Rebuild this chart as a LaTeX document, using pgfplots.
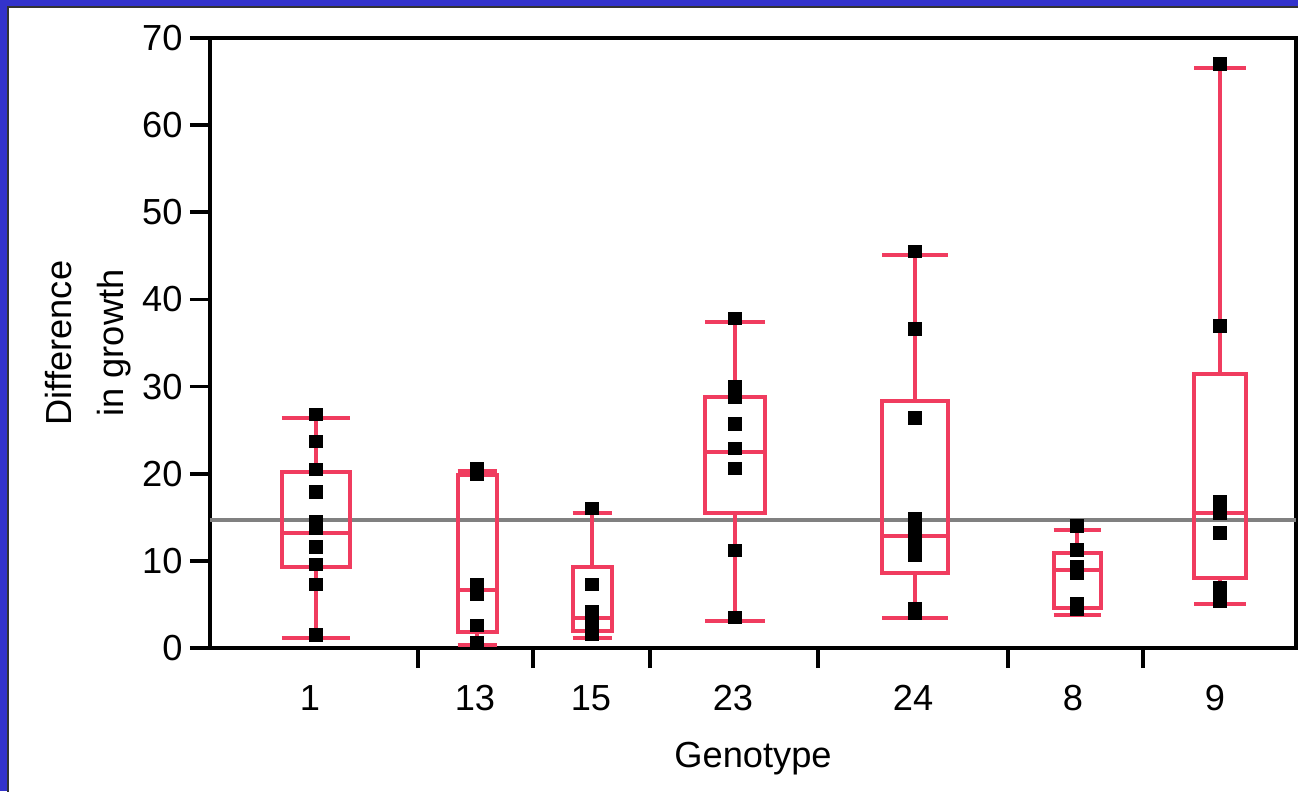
\documentclass[border=0pt]{standalone}
\usepackage{fontspec}
\setmainfont{Liberation Sans}
\usepackage{pgfplots}
\usepackage{pgfplotstable}
\pgfplotsset{compat=1.18}
\definecolor{jmpBlue}{RGB}{51,51,204}
\definecolor{jmpRed}{RGB}{240,60,95}
\definecolor{meanGray}{RGB}{128,128,128}

% one JMP-style box: left, centre, right, lower whisker, Q1, median, Q3, upper whisker
\newcommand\jmpbox[8]{%
  \addplot[jmpRed, line width=1.6pt, unbounded coords=jump] coordinates {
    (#2,#5) (#3,#5) (#3,#7) (#1,#7) (#1,#5) (#2,#5)
    (#2,nan)
    (#1,#6) (#3,#6)
    (#2,nan)
    (#2,#7) (#2,#8)
    (#2,nan)
    (#1,#8) (#3,#8)
    (#2,nan)
    (#2,#5) (#2,#4)
    (#2,nan)
    (#1,#4) (#3,#4)
  };}

\pgfplotstableread{
x y
316 26.8
316 23.7
316 20.5
316 17.9
316 14.5
316 13.7
316 11.6
316 9.6
316 7.3
316 1.5
477 20.6
477 19.9
477 7.3
477 6.2
477 2.6
477 0.65
592 16.0
592 7.3
592 4.2
592 3.3
592 2.5
592 1.6
735 37.8
735 30.0
735 28.8
735 25.7
735 22.9
735 20.6
735 11.2
735 3.5
915 45.5
915 36.6
915 26.4
915 14.8
915 13.2
915 11.8
915 10.6
915 4.55
915 4.0
1077 14.0
1077 11.25
1077 9.3
1077 8.6
1077 5.1
1077 4.4
1220 67.0
1220 36.95
1220 16.8
1220 16.0
1220 15.45
1220 13.2
1220 6.9
1220 5.4
}\points

\begin{document}
\begin{tikzpicture}
\path[use as bounding box] (-84pt,-57.2pt) rectangle (435.2pt,259.2pt);
\fill[jmpBlue] (-84pt,-57.2pt) rectangle (435.2pt,259.2pt);
\filldraw[fill=white, draw=black!80, line width=0.5pt] (-80.8pt,-62pt) rectangle (440pt,256.4pt);
\begin{axis}[
  scale only axis, width=434.4pt, height=244pt,
  xmin=210, xmax=1296, ymin=0, ymax=70,
  clip=false,
  axis line style={line width=1.5pt},
  tick style={line width=1.5pt, black},
  tick align=outside, major tick length=8pt,
  xtick pos=bottom, ytick pos=left,
  ytick={0,10,...,70},
  xtick={418,533,650,818,1008,1143},
  xticklabels={},
  extra x ticks={310,475,591,733,913,1073,1215},
  extra x tick labels={1,13,15,23,24,8,9},
  extra x tick style={major tick length=0pt, tick style={draw=none},
    xticklabel style={anchor=base, yshift=-24.8pt}},
  /pgf/number format/assume math mode=true,
  tick label style={font=\fontsize{14.5}{17}\selectfont},
  yticklabel style={inner sep=0pt, xshift=-2.8pt},
  xlabel={Genotype},
  xlabel style={font=\fontsize{14.5}{17}\selectfont, at={(axis description cs:0.5,-0.1967)}, anchor=base, inner sep=0pt},
  ylabel={Difference\\in growth},
  ylabel style={font=\fontsize{14.5}{20.8}\selectfont, align=center, at={(axis description cs:-0.0727,0.5)}, anchor=south, inner sep=0pt},
]
% grand mean
\addplot[meanGray, line width=1.5pt] coordinates {(210,14.7) (1296,14.7)};

\jmpbox{282}{316}{350}{1.1}{9.3}{13.2}{20.2}{26.4}
\jmpbox{457.5}{477}{496.5}{0.35}{1.8}{6.6}{19.9}{20.3}
\jmpbox{572.5}{592}{611.5}{1.1}{1.9}{3.5}{9.3}{15.5}
\jmpbox{705}{735}{765}{3.1}{15.5}{22.5}{28.8}{37.4}
\jmpbox{882}{915}{948}{3.4}{8.6}{12.85}{28.4}{45.1}
\jmpbox{1053.5}{1077}{1100.5}{3.8}{4.55}{8.95}{10.9}{13.5}
\jmpbox{1194}{1220}{1246}{5.0}{8.07}{15.5}{31.5}{66.6}

% individual observations
\addplot[only marks, mark=square*, mark size=2.5pt, black] table[x=x, y=y] {\points};
\end{axis}
\end{tikzpicture}
\end{document}
